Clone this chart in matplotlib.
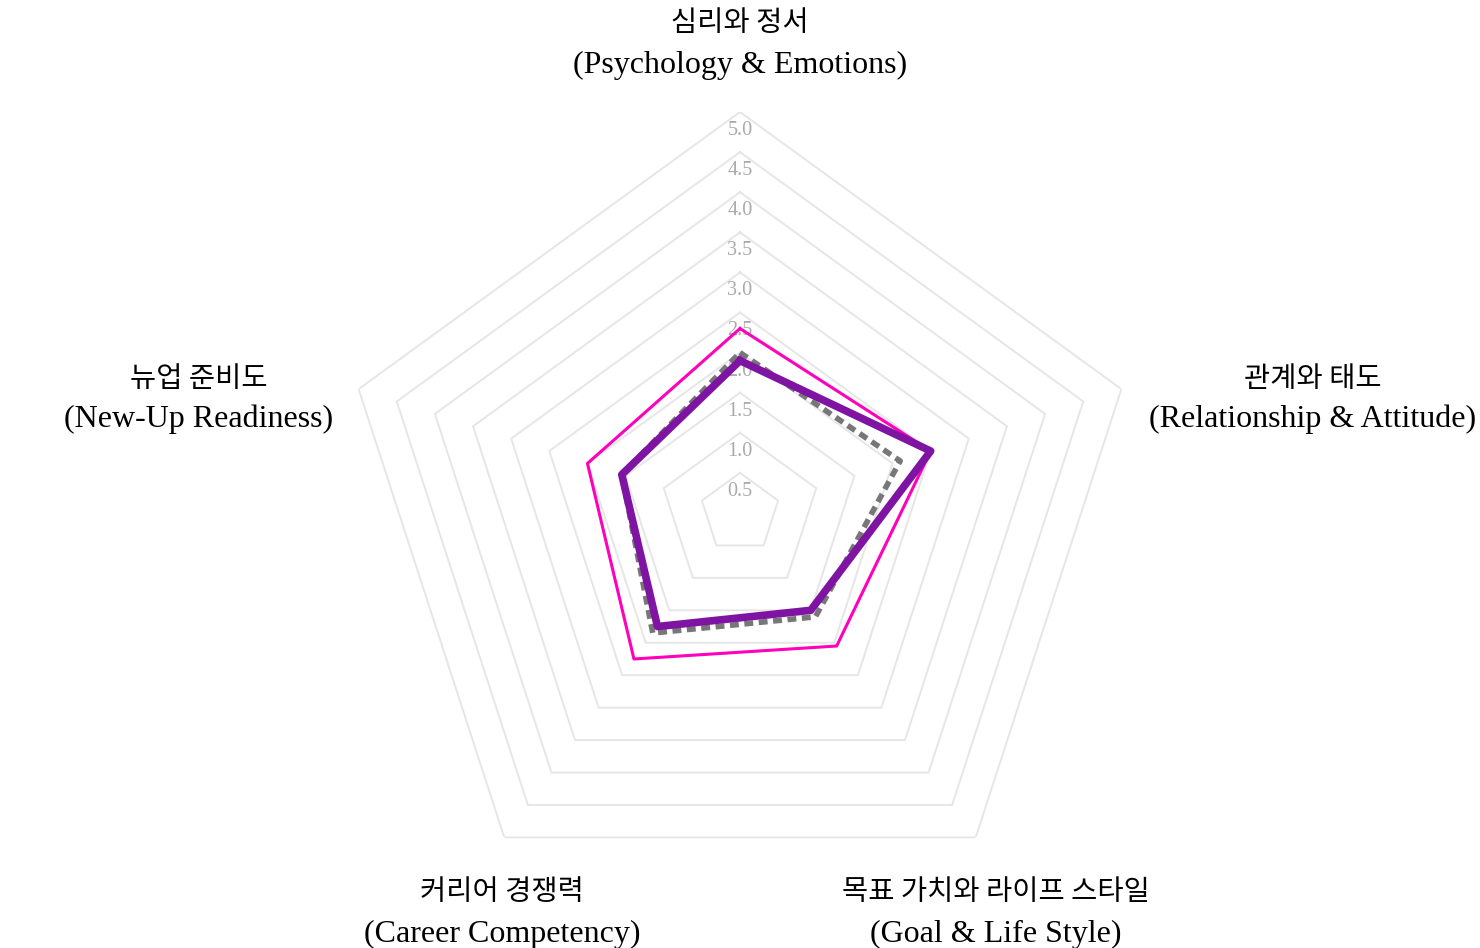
import numpy as np
import matplotlib.pyplot as plt

# 항목 (시계방향, 위에서부터)
labels_ko = ["심리와 정서", "관계와 태도", "목표 가치와 라이프 스타일", "커리어 경쟁력", "뉴업 준비도"]
labels_en = ["(Psychology & Emotions)", "(Relationship & Attitude)", "(Goal & Life Style)",
             "(Career Competency)", "(New-Up Readiness)"]

# 점수
pink_vals = [2.3, 2.5, 2.05, 2.25, 2.0]
purple_vals = [1.9, 2.5, 1.5, 1.75, 1.55]
gray_vals = [2.0, 2.1, 1.6, 1.85, 1.55]

ticks = [0.5, 1.0, 1.5, 2.0, 2.5, 3.0, 3.5, 4.0, 4.5, 5.0]

W, H = 1480, 948
cx, cy, R = 740, 513, 401

fig = plt.figure(figsize=(W / 100, H / 100), dpi=100)
ax = fig.add_axes([(cx - R) / W, (H - cy - R) / H, 2 * R / W, 2 * R / H], projection="polar")
ax.set_theta_offset(np.pi / 2)
ax.set_theta_direction(-1)
ax.set_ylim(0, 5)
ax.set_xticks([])
ax.set_yticks([])
ax.grid(False)
ax.spines["polar"].set_visible(False)
ax.patch.set_alpha(0)

n = len(labels_ko)
angles = np.linspace(0, 2 * np.pi, n, endpoint=False)
closed = np.append(angles, angles[0])

# 오각형 격자
for t in ticks:
    ax.plot(closed, [t] * (n + 1), color="#e6e6e6", lw=1.4, zorder=1)
    ax.text(0, t - 0.23, f"{t:.1f}", ha="center", va="center", fontsize=14.5,
            color="#aaaaaa", family="Liberation Serif", zorder=2)

def close(v):
    return v + v[:1]

ax.plot(closed, close(pink_vals), color="#ff00bb", lw=2.2, zorder=3)
ax.plot(closed, close(gray_vals), color="#777777", lw=4, dashes=(1.6, 1.0), zorder=4)
ax.plot(closed, close(purple_vals), color="#7f14a3", lw=5.5, zorder=5)

# 축 라벨 (꼭짓점 기준 픽셀 오프셋: x, 한글 줄 y, 영문 줄 y)
px = 0.72
offsets = [(0, 89, 47), (191, 10, -30), (20, -55, -97), (-2, -55, -97), (-160, 10, -30)]
for a, ko, en, (dx, dy_ko, dy_en) in zip(angles, labels_ko, labels_en, offsets):
    ax.annotate(ko, xy=(a, 5), xytext=(dx * px, dy_ko * px), textcoords="offset points",
                ha="center", va="center", fontsize=20.5, family="Noto Sans CJK KR",
                fontweight="light", annotation_clip=False)
    ax.annotate(en, xy=(a, 5), xytext=(dx * px, dy_en * px), textcoords="offset points",
                ha="center", va="center", fontsize=23, family="Liberation Serif",
                annotation_clip=False)

fig.savefig("out.png", dpi=100)
